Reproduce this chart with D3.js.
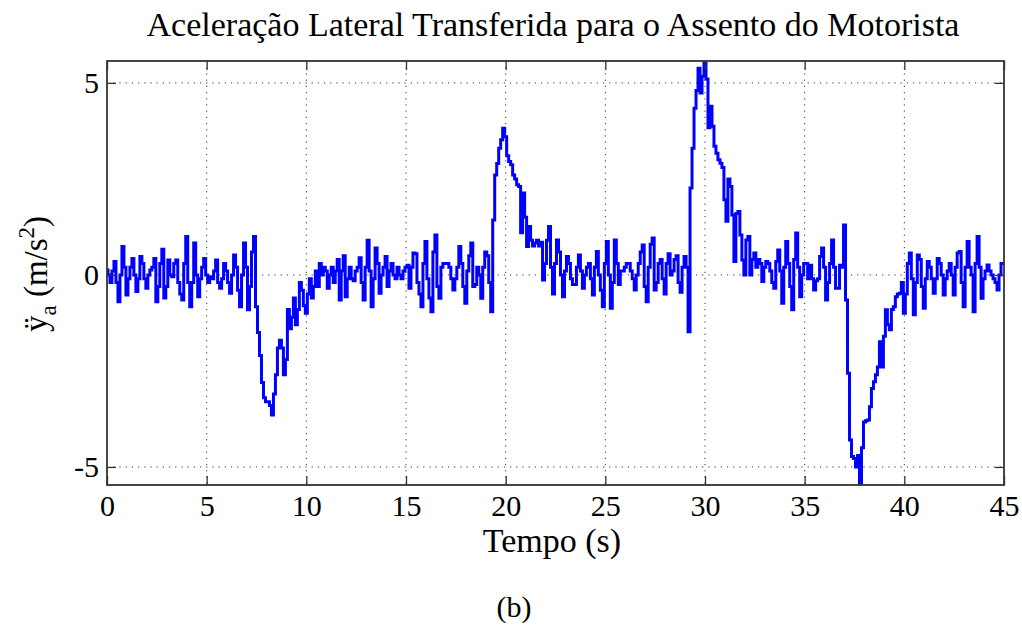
<!DOCTYPE html>
<html>
<head>
<meta charset="utf-8">
<script src="https://cdn.jsdelivr.net/npm/d3@7"></script>
<style>
  body { margin: 0; background: #fff; }
  svg { display: block; }
  text { font-family: "Liberation Serif", "Times New Roman", serif; fill: #000; }
  .grid line { stroke: #333; stroke-width: 1; stroke-dasharray: 1.2, 5; }
</style>
</head>
<body>
<svg id="chart" width="1022" height="628"></svg>
<script>
const xTicks = [0, 5, 10, 15, 20, 25, 30, 35, 40, 45];
const yTicks = [-5, 0, 5];
const dt = 0.1; // s between samples

// lateral acceleration (m/s^2), every 0.1 s
const acc_0_5 = [
  0.13, 0.0, -0.2, 0.1, 0.35, -0.2, -0.7, 0.0, 0.74, 0.2,
  -0.52, -0.1, 0.2, 0.43, 0.0, -0.43, -0.1, 0.48, 0.3, -0.1,
  -0.35, 0.0, 0.13, 0.2, 0.43, -0.7, -0.3, 0.3, 0.67, -0.6,
  -0.3, 0.39, 0.0, -0.05, 0.3, 0.39, -0.2, -0.5, -0.65, 0.3,
  1.0, -0.2, -0.83, -0.2, 0.83, 0.0, -0.57, -0.1, 0.2, 0.43
];
const acc_5_10 = [
  0.0, -0.2, -0.05, -0.1, 0.1, 0.39, -0.2, -0.35, -0.1, 0.3,
  0.1, -0.2, -0.48, 0.0, 0.52, 0.2, -0.4, -0.83, 0.0, 0.83,
  0.2, -0.91, -0.3, 0.6, 1.0, -0.83, -1.5, -2.1, -2.8, -3.2,
  -3.3, -3.3, -3.4, -3.65, -3.1, -2.6, -1.9, -1.7, -1.9, -2.6,
  -2.2, -0.9, -1.4, -1.1, -0.6, -1.3, -0.9, -0.2, -0.4, -0.8
];
const acc_10_15 = [
  -1.0, -0.5, -0.1, -0.6, -0.3, 0.1, -0.3, 0.3, 0.0, 0.2,
  0.1, -0.35, 0.0, 0.2, -0.2, 0.1, 0.4, -0.65, 0.1, 0.5,
  -0.57, -0.1, 0.2, -0.1, -0.15, 0.1, 0.2, 0.45, -0.2, -0.65,
  0.2, 0.9, 0.1, -0.83, -0.1, 0.7, 0.3, -0.48, 0.0, 0.2,
  0.48, -0.3, 0.1, 0.3, 0.0, -0.1, 0.2, 0.0, -0.1, 0.1
];
const acc_15_20 = [
  0.2, 0.25, -0.35, 0.2, 0.57, 0.55, -0.2, -0.5, -0.83, 0.3,
  0.87, -0.1, -0.6, -0.96, 0.6, 1.04, -0.3, -0.61, 0.2, 0.3,
  0.3, 0.3, 0.2, -0.1, -0.39, -0.1, 0.2, 0.74, 0.3, -0.3,
  -0.74, 0.1, 0.5, 0.83, -0.3, -0.25, 0.2, 0.0, -0.61, 0.2,
  0.6, 0.5, -0.2, -0.96, 1.43, 2.6, 2.9, 3.3, 3.52, 3.82
];
const acc_20_25 = [
  3.6, 3.1, 2.95, 2.87, 2.6, 2.5, 2.35, 2.3, 1.1, 2.13,
  1.5, 0.74, 1.26, 0.9, 0.75, 0.83, 0.9, 0.75, 0.85, -0.13,
  0.3, 0.9, 1.26, 0.2, -0.5, 0.3, 0.91, 0.6, 0.0, -0.57,
  0.1, 0.48, 0.3, -0.1, -0.25, -0.25, 0.2, 0.52, 0.1, -0.35,
  0.0, 0.2, 0.3, -0.1, -0.52, 0.2, 0.61, 0.0, -0.4, -0.83
];
const acc_25_30 = [
  0.3, 0.87, 0.0, -0.87, -0.2, 0.91, 0.3, -0.25, 0.1, 0.1,
  0.2, 0.3, 0.3, 0.1, -0.1, -0.39, 0.0, 0.3, 0.6, 0.78,
  -0.3, -0.7, 0.2, 0.8, 0.96, -0.39, -0.2, 0.3, 0.4, -0.1,
  -0.5, 0.3, 0.55, 0.0, 0.1, 0.4, 0.5, -0.2, -0.45, 0.2,
  0.48, 0.2, -1.48, 2.26, 3.3, 4.34, 4.8, 5.38, 4.74, 5.17
];
const acc_30_35 = [
  5.56, 5.1, 3.83, 4.39, 3.87, 3.35, 3.17, 3.0, 2.91, 2.8,
  1.96, 1.4, 2.5, 2.3, 1.56, 0.35, 1.6, 1.65, 1.04, 0.39,
  0.0, 0.91, 1.0, 0.0, 0.4, 0.57, 0.2, 0.4, 0.3, -0.17,
  0.2, 0.35, 0.3, 0.1, -0.2, -0.35, 0.35, 0.65, 0.1, -0.74,
  0.2, 0.87, 0.3, -0.3, -0.91, 0.4, 1.09, 0.2, -0.57, 0.0
];
const acc_35_40 = [
  0.3, 0.3, -0.1, 0.25, -0.1, -0.39, -0.15, -0.1, 0.48, 0.7,
  0.2, -0.65, -0.2, 0.3, 0.91, 0.2, -0.35, -0.35, 0.25, 0.2,
  1.3, -0.65, -2.56, -4.3, -4.73, -4.78, -5.0, -4.7, -5.43, -4.5,
  -3.83, -3.8, -3.78, -3.43, -2.96, -2.78, -2.6, -2.4, -1.74, -2.4,
  -1.6, -0.91, -1.3, -1.43, -0.9, -0.83, -0.57, -0.5, -0.48, -0.2
];
const acc_40_45 = [
  -1.0, -0.5, 0.3, 0.57, -0.1, -1.04, -0.2, 0.52, 0.4, -0.3,
  -0.87, -0.1, 0.35, 0.2, -0.1, -0.48, -0.1, 0.43, 0.3, 0.0,
  -0.52, -0.1, 0.1, 0.3, 0.0, -0.52, 0.2, 0.57, 0.61, -0.2,
  -0.83, 0.2, 0.87, 0.2, 0.0, -0.96, 0.3, 1.0, 0.2, -0.61,
  -0.1, 0.1, 0.26, 0.1, 0.0, -0.1, -0.2, -0.39, 0.0, 0.3, 0.3
];

const accel = [].concat(acc_0_5, acc_5_10, acc_10_15, acc_15_20, acc_20_25,
  acc_25_30, acc_30_35, acc_35_40, acc_40_45);
const points = accel.map((v, i) => ({ t: i * dt, a: v }));

// ===================== LAYOUT =====================
const svg = d3.select('#chart');
const plotL = 107, plotR = 1004, plotT = 61, plotB = 485;

const x = d3.scaleLinear().domain([0, 45]).range([plotL, plotR]);
const y = d3.scaleLinear().domain([-5.47, 5.57]).range([plotB, plotT]);

svg.append('rect').attr('width', 1022).attr('height', 628).attr('fill', '#fff');

// grid
const grid = svg.append('g').attr('class', 'grid');
grid.selectAll('line.gx').data(xTicks.slice(1, -1)).join('line')
  .attr('class', 'gx')
  .attr('x1', d => x(d)).attr('x2', d => x(d))
  .attr('y1', plotT).attr('y2', plotB);
grid.selectAll('line.gy').data(yTicks).join('line')
  .attr('class', 'gy')
  .attr('x1', plotL).attr('x2', plotR)
  .attr('y1', d => y(d)).attr('y2', d => y(d));

// signal (sampled, drawn as steps like the original plot)
svg.append('clipPath').attr('id', 'clip')
  .append('rect').attr('x', plotL).attr('y', plotT)
  .attr('width', plotR - plotL).attr('height', plotB - plotT);

const line = d3.line().x(d => x(d.t)).y(d => y(d.a)).curve(d3.curveStep);
svg.append('path')
  .datum(points)
  .attr('clip-path', 'url(#clip)')
  .attr('fill', 'none')
  .attr('stroke', '#0000ff')
  .attr('stroke-width', 3)
  .attr('stroke-linejoin', 'miter')
  .attr('d', line);

// axes (ticks pointing inward, box all round)
const tickLen = 9;
const axisColor = '#333';
const fmt = d => String(d); // plain hyphen for negatives, like the source

svg.append('g').attr('transform', `translate(0,${plotB})`)
  .call(d3.axisBottom(x).tickValues(xTicks).tickFormat(fmt).tickSizeInner(-tickLen).tickSizeOuter(0).tickPadding(10))
  .call(g => g.select('.domain').remove())
  .call(g => g.selectAll('line').attr('stroke', axisColor).attr('stroke-width', 1.3))
  .call(g => g.selectAll('text').attr('font-size', 30).attr('font-family', '"Liberation Serif", serif').attr('fill', '#000'));

svg.append('g').attr('transform', `translate(0,${plotT})`)
  .call(d3.axisTop(x).tickValues(xTicks).tickSizeInner(-tickLen).tickSizeOuter(0).tickFormat(''))
  .call(g => g.select('.domain').remove())
  .call(g => g.selectAll('line').attr('stroke', axisColor).attr('stroke-width', 1.3));

svg.append('g').attr('transform', `translate(${plotL},0)`)
  .call(d3.axisLeft(y).tickValues(yTicks).tickFormat(fmt).tickSizeInner(-tickLen).tickSizeOuter(0).tickPadding(8))
  .call(g => g.select('.domain').remove())
  .call(g => g.selectAll('line').attr('stroke', axisColor).attr('stroke-width', 1.3))
  .call(g => g.selectAll('text').attr('font-size', 30).attr('font-family', '"Liberation Serif", serif').attr('fill', '#000'));

svg.append('g').attr('transform', `translate(${plotR},0)`)
  .call(d3.axisRight(y).tickValues(yTicks).tickSizeInner(-tickLen).tickSizeOuter(0).tickFormat(''))
  .call(g => g.select('.domain').remove())
  .call(g => g.selectAll('line').attr('stroke', axisColor).attr('stroke-width', 1.3));

svg.append('rect')
  .attr('x', plotL).attr('y', plotT)
  .attr('width', plotR - plotL).attr('height', plotB - plotT)
  .attr('fill', 'none').attr('stroke', axisColor).attr('stroke-width', 1.8);

// ===================== TEXT =====================
svg.append('text')
  .attr('x', 553).attr('y', 36)
  .attr('text-anchor', 'middle').attr('font-size', 34)
  .text('Aceleração Lateral Transferida para o Assento do Motorista');

svg.append('text')
  .attr('x', 552).attr('y', 552)
  .attr('text-anchor', 'middle').attr('font-size', 34)
  .text('Tempo (s)');

svg.append('text')
  .attr('x', 514).attr('y', 617)
  .attr('text-anchor', 'middle').attr('font-size', 30)
  .text('(b)');

const ylab = svg.append('text')
  .attr('transform', 'translate(47,274) rotate(-90)')
  .attr('text-anchor', 'middle').attr('font-size', 33);
ylab.append('tspan').text('ÿ');
ylab.append('tspan').attr('font-size', 23).attr('dy', 9).text('a');
ylab.append('tspan').attr('dy', -9).text(' (m/s');
ylab.append('tspan').attr('font-size', 23).attr('dy', -13).text('2');
ylab.append('tspan').attr('dy', 13).text(')');
</script>
</body>
</html>
